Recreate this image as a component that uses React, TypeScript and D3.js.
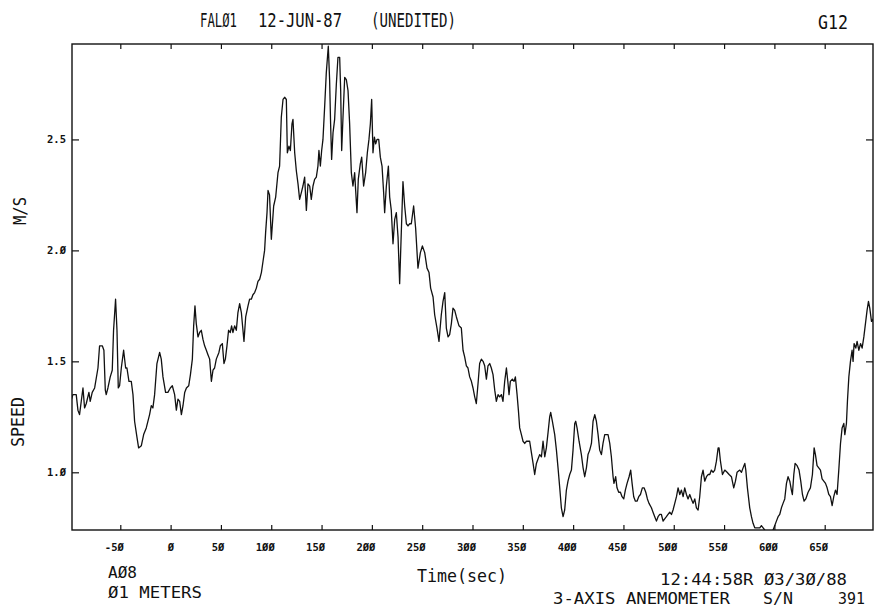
import { useEffect, useRef } from 'react';
import * as d3 from 'd3';

// wind speed trace (time in sec, speed in m/s)
const times = [
  -98.4, -97.1, -95.4, -93.8, -92.1, -90.5, -88.8, -87.1, -85.5, -83.8, -81.2, -79.9, -77.9, -75.5, -72.2, -70.6,
  -67.9, -66.3, -64.9, -64.0, -62.3, -60.0, -58.0, -56.7, -54.7, -53.3, -52.0, -50.7, -49.0, -46.7, -44.7, -43.4,
  -41.4, -39.1, -37.4, -35.8, -33.5, -31.8, -29.1, -26.8, -24.2, -20.9, -19.2, -17.6, -15.9, -13.6, -10.9, -9.3,
  -7.6, -5.0, -2.7, -0.3, 1.7, 4.0, 5.7, 7.3, 9.0, 10.7, 12.3, 14.0, 15.7, 18.0, 19.7, 21.6,
  22.9, 24.2, 25.5, 27.2, 28.8, 30.5, 32.1, 33.8, 35.5, 37.1, 38.8, 40.5, 42.1, 43.7, 45.4, 48.0,
  49.4, 51.4, 53.0, 54.4, 56.0, 57.6, 59.3, 60.6, 61.9, 63.6, 65.3, 66.9, 68.6, 70.3, 71.9, 72.9,
  74.6, 76.9, 78.5, 80.2, 81.8, 83.5, 85.2, 86.8, 88.5, 90.2, 91.8, 93.4, 94.4, 95.8, 96.8, 98.3,
  100.1, 102.4, 104.4, 106.7, 108.3, 110.0, 111.7, 113.3, 115.0, 116.0, 117.6, 119.0, 120.6, 121.6, 123.3, 124.9,
  126.6, 128.2, 129.9, 131.5, 133.2, 134.9, 136.5, 138.2, 139.8, 141.5, 143.1, 144.8, 146.4, 147.4, 148.8, 150.1,
  151.4, 153.1, 154.7, 156.7, 158.0, 159.0, 160.0, 161.4, 163.0, 164.7, 166.3, 168.0, 169.0, 170.0, 171.3, 173.0,
  174.6, 176.3, 177.9, 179.6, 181.2, 182.9, 183.9, 185.2, 186.5, 188.5, 189.9, 191.8, 193.8, 195.5, 197.1, 198.5,
  199.8, 201.1, 202.5, 203.8, 205.1, 206.8, 208.4, 210.1, 211.7, 212.7, 214.4, 216.4, 217.7, 219.3, 221.0, 222.7,
  224.3, 226.0, 227.6, 229.3, 230.9, 232.6, 234.3, 235.9, 237.6, 239.2, 241.5, 243.5, 245.8, 248.2, 250.2, 252.5,
  254.8, 256.8, 258.4, 260.8, 262.4, 264.7, 266.7, 269.0, 270.7, 272.4, 274.0, 275.7, 277.3, 279.0, 280.6, 282.3,
  284.0, 286.6, 288.9, 290.6, 292.2, 293.9, 295.5, 297.2, 298.9, 300.5, 302.2, 303.8, 305.5, 307.1, 308.8, 310.5,
  312.1, 313.8, 315.4, 317.1, 318.7, 320.4, 322.1, 323.7, 325.4, 327.0, 328.7, 330.3, 332.0, 333.7, 335.3, 336.3,
  337.6, 339.6, 341.3, 342.6, 344.3, 345.6, 346.9, 348.6, 350.2, 351.9, 353.6, 355.2, 356.8, 358.5, 360.2, 361.8,
  363.5, 365.1, 366.8, 368.5, 370.1, 371.8, 373.4, 375.1, 376.7, 377.7, 379.4, 381.7, 383.4, 385.0, 386.7, 388.3,
  390.0, 391.6, 393.3, 394.9, 396.6, 398.3, 399.9, 401.6, 402.6, 403.9, 405.9, 408.2, 409.9, 411.5, 413.2, 414.8,
  416.5, 418.2, 419.8, 421.5, 423.1, 424.8, 426.4, 428.1, 429.7, 431.4, 433.1, 434.7, 436.4, 438.0, 439.7, 440.6,
  442.3, 443.6, 445.3, 447.0, 448.6, 450.3, 451.9, 453.6, 455.6, 457.2, 458.6, 460.2, 461.9, 463.5, 465.2, 466.9,
  468.8, 470.5, 472.2, 473.8, 475.4, 477.8, 479.4, 481.1, 482.8, 484.4, 486.1, 487.7, 489.4, 491.0, 492.7, 494.3,
  496.0, 497.7, 499.3, 501.0, 502.7, 504.3, 506.0, 507.6, 509.3, 510.9, 512.6, 514.2, 515.9, 517.5, 519.2, 520.9,
  522.5, 524.2, 525.8, 527.5, 529.1, 530.8, 532.5, 534.1, 535.8, 537.4, 539.1, 540.7, 542.4, 544.1, 545.0, 546.4,
  548.4, 550.7, 553.0, 555.0, 557.3, 559.6, 561.3, 562.9, 565.6, 567.3, 568.9, 570.6, 571.6, 573.2, 575.5, 577.2,
  578.8, 580.5, 582.2, 583.8, 585.5, 587.1, 588.8, 590.4, 592.1, 593.7, 595.4, 597.1, 598.7, 600.4, 602.0, 603.7,
  605.3, 607.0, 608.6, 610.3, 612.0, 613.6, 615.3, 616.9, 617.9, 619.3, 620.6, 622.6, 624.5, 626.2, 627.9, 629.5,
  631.2, 633.5, 635.8, 637.8, 639.5, 640.8, 642.4, 644.1, 645.8, 647.4, 649.1, 650.8, 652.4, 654.1, 655.7, 657.4,
  659.0, 660.7, 662.3, 664.0, 665.7, 667.3, 669.0, 670.0, 671.6, 672.6, 674.0, 675.6, 677.2, 678.2, 679.2, 680.9,
  682.2, 683.9, 685.6, 687.2, 688.9, 690.5, 692.1, 693.5, 694.8, 696.5, 698.1, 699.1,
];

const speeds = [
  1.33, 1.35, 1.35, 1.35, 1.28, 1.26, 1.32, 1.38, 1.29, 1.31, 1.36, 1.32, 1.36, 1.38, 1.47, 1.57,
  1.57, 1.55, 1.37, 1.35, 1.38, 1.43, 1.46, 1.64, 1.78, 1.64, 1.38, 1.39, 1.47, 1.55, 1.47, 1.47,
  1.41, 1.41, 1.35, 1.23, 1.16, 1.11, 1.12, 1.17, 1.20, 1.26, 1.30, 1.29, 1.35, 1.49, 1.54, 1.51,
  1.43, 1.36, 1.36, 1.38, 1.39, 1.35, 1.28, 1.33, 1.32, 1.26, 1.30, 1.36, 1.38, 1.39, 1.44, 1.51,
  1.66, 1.75, 1.67, 1.61, 1.63, 1.64, 1.60, 1.57, 1.55, 1.53, 1.51, 1.41, 1.46, 1.47, 1.51, 1.54,
  1.57, 1.58, 1.49, 1.51, 1.57, 1.64, 1.63, 1.66, 1.63, 1.66, 1.64, 1.72, 1.76, 1.72, 1.64, 1.59,
  1.70, 1.75, 1.78, 1.78, 1.80, 1.81, 1.83, 1.86, 1.87, 1.90, 1.95, 2.00, 2.08, 2.17, 2.27, 2.25,
  2.05, 2.20, 2.24, 2.35, 2.38, 2.60, 2.68, 2.69, 2.68, 2.44, 2.47, 2.45, 2.57, 2.59, 2.44, 2.36,
  2.30, 2.23, 2.26, 2.29, 2.33, 2.18, 2.30, 2.29, 2.23, 2.29, 2.32, 2.33, 2.38, 2.45, 2.38, 2.45,
  2.50, 2.65, 2.80, 2.92, 2.77, 2.57, 2.41, 2.53, 2.59, 2.75, 2.87, 2.87, 2.72, 2.45, 2.60, 2.78,
  2.77, 2.72, 2.57, 2.35, 2.29, 2.35, 2.27, 2.17, 2.32, 2.39, 2.42, 2.29, 2.35, 2.44, 2.50, 2.57,
  2.68, 2.44, 2.51, 2.48, 2.50, 2.50, 2.42, 2.38, 2.26, 2.17, 2.29, 2.38, 2.24, 2.18, 2.03, 2.14,
  2.17, 2.06, 1.85, 2.09, 2.31, 2.20, 2.12, 2.11, 2.12, 2.12, 2.20, 2.10, 1.92, 1.99, 2.02, 1.99,
  1.92, 1.90, 1.83, 1.79, 1.71, 1.65, 1.59, 1.71, 1.77, 1.81, 1.65, 1.61, 1.62, 1.67, 1.74, 1.73,
  1.70, 1.66, 1.65, 1.55, 1.52, 1.48, 1.47, 1.43, 1.41, 1.38, 1.34, 1.31, 1.40, 1.49, 1.51, 1.50,
  1.48, 1.42, 1.48, 1.49, 1.47, 1.44, 1.37, 1.32, 1.35, 1.34, 1.35, 1.32, 1.41, 1.47, 1.40, 1.35,
  1.41, 1.42, 1.41, 1.43, 1.35, 1.28, 1.20, 1.17, 1.14, 1.13, 1.14, 1.14, 1.14, 1.09, 1.04, 0.99,
  1.04, 1.06, 1.08, 1.07, 1.14, 1.07, 1.11, 1.18, 1.25, 1.27, 1.23, 1.17, 1.10, 1.02, 0.93, 0.84,
  0.80, 0.83, 0.92, 0.96, 0.99, 1.01, 1.10, 1.22, 1.23, 1.20, 1.14, 1.08, 1.02, 0.98, 1.02, 1.08,
  1.10, 1.13, 1.23, 1.26, 1.23, 1.17, 1.10, 1.08, 1.13, 1.17, 1.17, 1.17, 1.13, 1.07, 0.98, 0.95,
  0.98, 0.93, 0.91, 0.91, 0.89, 0.88, 0.92, 0.95, 0.98, 1.01, 0.95, 0.89, 0.87, 0.87, 0.89, 0.90,
  0.93, 0.93, 0.91, 0.88, 0.86, 0.84, 0.82, 0.80, 0.78, 0.80, 0.81, 0.81, 0.78, 0.79, 0.80, 0.81,
  0.82, 0.81, 0.83, 0.86, 0.89, 0.93, 0.90, 0.92, 0.89, 0.93, 0.90, 0.88, 0.90, 0.88, 0.86, 0.88,
  0.84, 0.83, 0.89, 0.98, 1.01, 0.96, 0.98, 0.99, 0.99, 1.01, 1.00, 1.01, 1.05, 1.11, 1.11, 1.05,
  0.99, 1.01, 1.00, 0.99, 0.98, 0.93, 0.96, 1.00, 1.01, 1.00, 1.02, 1.04, 1.01, 0.93, 0.84, 0.80,
  0.77, 0.75, 0.75, 0.75, 0.75, 0.76, 0.75, 0.74, 0.73, 0.72, 0.72, 0.72, 0.74, 0.76, 0.78, 0.80,
  0.81, 0.84, 0.86, 0.88, 0.95, 0.98, 0.96, 0.92, 0.90, 0.99, 1.04, 1.03, 1.01, 0.96, 0.90, 0.87,
  0.88, 0.91, 0.93, 0.99, 1.11, 1.08, 1.03, 1.02, 1.01, 0.97, 0.96, 0.95, 0.93, 0.90, 0.89, 0.85,
  0.89, 0.92, 0.90, 1.01, 1.13, 1.20, 1.22, 1.17, 1.22, 1.32, 1.43, 1.50, 1.55, 1.50, 1.58, 1.56,
  1.59, 1.55, 1.58, 1.56, 1.61, 1.67, 1.73, 1.77, 1.74, 1.68, 1.69, 1.65,
];

const xTicks = [-50, 0, 50, 100, 150, 200, 250, 300, 350, 400, 450, 500, 550, 600, 650];
const yTicks = [1.0, 1.5, 2.0, 2.5];

// plotter style zero with a slash
const slashZero = (s: string) => s.replace(/0/g, 'Ø');

const MONO = "'DejaVu Sans Mono', 'Liberation Mono', monospace";

const App = () => {
  const ref = useRef<SVGSVGElement | null>(null);

  useEffect(() => {
    const svg = d3.select(ref.current);
    svg.selectAll('*').remove();

    const left = 72, right = 873, top = 44, bottom = 530;

    const x = d3.scaleLinear().domain([-98, 698]).range([left, right]);
    const y = d3.scaleLinear().domain([0.74, 2.93]).range([bottom, top]);

    svg.append('rect').attr('width', 875).attr('height', 613).attr('fill', '#fff');

    svg.append('clipPath').attr('id', 'plot-clip')
      .append('rect')
      .attr('x', left).attr('y', top)
      .attr('width', right - left).attr('height', bottom - top);

    // frame
    svg.append('rect')
      .attr('x', left).attr('y', top)
      .attr('width', right - left).attr('height', bottom - top)
      .attr('fill', 'none')
      .attr('stroke', '#111')
      .attr('stroke-width', 1.4);

    const styleAxis = (g: d3.Selection<SVGGElement, unknown, null, undefined>) => {
      g.select('.domain').remove();
      g.selectAll('line').attr('stroke', '#111').attr('stroke-width', 1.2);
      g.selectAll('text')
        .attr('fill', '#111')
        .attr('font-family', MONO)
        .attr('font-size', 10.5)
        .attr('font-weight', 'bold');
    };

    const xb = svg.append('g')
      .attr('transform', `translate(0,${bottom})`)
      .call(d3.axisBottom(x).tickValues(xTicks).tickSizeInner(-5).tickSizeOuter(0).tickPadding(14)
        .tickFormat(d => slashZero(String(d))));
    styleAxis(xb);
    xb.selectAll('text').attr('text-anchor', 'end').attr('dx', 3);

    const xt = svg.append('g')
      .attr('transform', `translate(0,${top})`)
      .call(d3.axisTop(x).tickValues(xTicks).tickSizeInner(-5).tickSizeOuter(0).tickFormat(() => ''));
    styleAxis(xt);

    const yl = svg.append('g')
      .attr('transform', `translate(${left},0)`)
      .call(d3.axisLeft(y).tickValues(yTicks).tickSizeInner(-7).tickSizeOuter(0).tickPadding(6)
        .tickFormat(d => slashZero(d3.format('.1f')(d as number))));
    styleAxis(yl);

    const yr = svg.append('g')
      .attr('transform', `translate(${right},0)`)
      .call(d3.axisRight(y).tickValues(yTicks).tickSizeInner(-7).tickSizeOuter(0).tickFormat(() => ''));
    styleAxis(yr);

    // speed trace
    const line = d3.line<number>()
      .x((_, i) => x(times[i]))
      .y(d => y(d));

    svg.append('path')
      .datum(speeds)
      .attr('clip-path', 'url(#plot-clip)')
      .attr('fill', 'none')
      .attr('stroke', '#111')
      .attr('stroke-width', 1.3)
      .attr('stroke-linejoin', 'round')
      .attr('d', line);

    // captions, fitted to the plotter lettering
    const label = (txt: string, px: number, py: number, size: number, len: number, rotate = false) => {
      const t = svg.append('text')
        .text(txt)
        .attr('font-family', MONO)
        .attr('font-size', size)
        .attr('fill', '#111')
        .attr('textLength', len)
        .attr('lengthAdjust', 'spacingAndGlyphs');
      if (rotate) {
        t.attr('text-anchor', 'middle').attr('transform', `translate(${px},${py}) rotate(-90)`);
      } else {
        t.attr('x', px).attr('y', py);
      }
    };

    label('FALØ1', 200, 27, 20, 37);
    label('12-JUN-87', 258, 27, 20, 84);
    label('(UNEDITED)', 371, 27, 20, 85);
    label('G12', 818, 29, 20, 30);

    label('M/S', 26, 211, 17, 28, true);
    label('SPEED', 24, 422, 17, 50, true);

    label('AØ8', 108, 578, 16.5, 29);
    label('Ø1 METERS', 108, 598, 16.5, 94);
    label('Time(sec)', 417, 582, 18, 90);
    label('12:44:58R Ø3/3Ø/88', 660, 585, 16.5, 187);
    label('3-AXIS ANEMOMETER', 553, 604, 16.5, 177);
    label('S/N', 763, 604, 16.5, 30);
    label('391', 838, 604, 16.5, 27);
  }, []);

  return (
    <svg ref={ref} width={875} height={613}
      style={{ position: 'absolute', left: 0, top: 0, display: 'block' }} />
  );
};

export default App;
